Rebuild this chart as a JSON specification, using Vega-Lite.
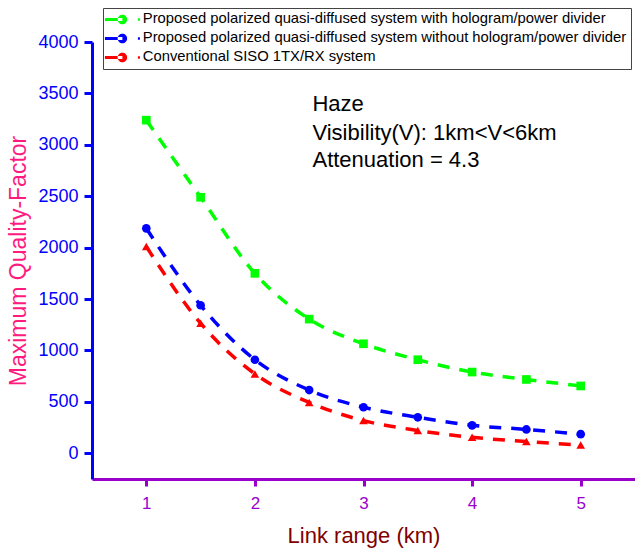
{
  "$schema": "https://vega.github.io/schema/vega-lite/v6.json",
  "width": 543,
  "height": 437,
  "autosize": {"type": "none"},
  "padding": {"left": 92, "top": 42, "right": 0, "bottom": 77},
  "background": "white",
  "config": {
    "font": "Liberation Sans",
    "view": {"stroke": null},
    "axis": {"labelFont": "Liberation Sans", "titleFont": "Liberation Sans", "titleFontWeight": "normal", "grid": false},
    "legend": {
      "direction": "vertical", "padding": 4,
      "strokeColor": "#444444", "fillColor": "white",
      "labelFont": "Liberation Sans", "labelFontSize": 14.8, "labelColor": "black", "labelLimit": 0,
      "symbolSize": 100, "symbolOffset": 8, "labelOffset": 13, "rowPadding": 3
    }
  },
  "datasets": {
    "curves": [
      {"system": "Proposed polarized quasi-diffused system with hologram/power divider", "range_km": 1.0, "q_factor": 3240},
      {"system": "Proposed polarized quasi-diffused system with hologram/power divider", "range_km": 1.5, "q_factor": 2490},
      {"system": "Proposed polarized quasi-diffused system with hologram/power divider", "range_km": 2.0, "q_factor": 1750},
      {"system": "Proposed polarized quasi-diffused system with hologram/power divider", "range_km": 2.5, "q_factor": 1305},
      {"system": "Proposed polarized quasi-diffused system with hologram/power divider", "range_km": 3.0, "q_factor": 1065},
      {"system": "Proposed polarized quasi-diffused system with hologram/power divider", "range_km": 3.5, "q_factor": 910},
      {"system": "Proposed polarized quasi-diffused system with hologram/power divider", "range_km": 4.0, "q_factor": 790},
      {"system": "Proposed polarized quasi-diffused system with hologram/power divider", "range_km": 4.5, "q_factor": 718},
      {"system": "Proposed polarized quasi-diffused system with hologram/power divider", "range_km": 5.0, "q_factor": 655},
      {"system": "Proposed polarized quasi-diffused system without hologram/power divider", "range_km": 1.0, "q_factor": 2188},
      {"system": "Proposed polarized quasi-diffused system without hologram/power divider", "range_km": 1.5, "q_factor": 1440},
      {"system": "Proposed polarized quasi-diffused system without hologram/power divider", "range_km": 2.0, "q_factor": 910},
      {"system": "Proposed polarized quasi-diffused system without hologram/power divider", "range_km": 2.5, "q_factor": 615},
      {"system": "Proposed polarized quasi-diffused system without hologram/power divider", "range_km": 3.0, "q_factor": 448},
      {"system": "Proposed polarized quasi-diffused system without hologram/power divider", "range_km": 3.5, "q_factor": 350},
      {"system": "Proposed polarized quasi-diffused system without hologram/power divider", "range_km": 4.0, "q_factor": 272},
      {"system": "Proposed polarized quasi-diffused system without hologram/power divider", "range_km": 4.5, "q_factor": 232},
      {"system": "Proposed polarized quasi-diffused system without hologram/power divider", "range_km": 5.0, "q_factor": 186},
      {"system": "Conventional SISO 1TX/RX system", "range_km": 1.0, "q_factor": 2010},
      {"system": "Conventional SISO 1TX/RX system", "range_km": 1.5, "q_factor": 1265},
      {"system": "Conventional SISO 1TX/RX system", "range_km": 2.0, "q_factor": 772},
      {"system": "Conventional SISO 1TX/RX system", "range_km": 2.5, "q_factor": 495},
      {"system": "Conventional SISO 1TX/RX system", "range_km": 3.0, "q_factor": 318},
      {"system": "Conventional SISO 1TX/RX system", "range_km": 3.5, "q_factor": 222},
      {"system": "Conventional SISO 1TX/RX system", "range_km": 4.0, "q_factor": 155},
      {"system": "Conventional SISO 1TX/RX system", "range_km": 4.5, "q_factor": 115},
      {"system": "Conventional SISO 1TX/RX system", "range_km": 5.0, "q_factor": 80}
    ],
    "notes": [
      {"note": "Haze", "range_km": 2.53, "q_factor": 3330},
      {"note": "Visibility(V): 1km<V<6km", "range_km": 2.53, "q_factor": 3045},
      {"note": "Attenuation = 4.3", "range_km": 2.53, "q_factor": 2780}
    ]
  },
  "layer": [
    {
      "data": {"name": "curves"},
      "mark": {"type": "line", "interpolate": "monotone", "strokeWidth": 3.5, "strokeDash": [12, 10]},
      "encoding": {
        "x": {
          "field": "range_km", "type": "quantitative",
          "scale": {"domain": [0.5, 5.5], "nice": false, "zero": false},
          "axis": {
            "title": "Link range (km)", "values": [1, 2, 3, 4, 5], "format": "d",
            "domainColor": "#9900CC", "domainWidth": 3,
            "tickColor": "#9900CC", "tickWidth": 3, "tickSize": 7,
            "labelColor": "#9900CC", "labelFontSize": 17, "labelPadding": 9,
            "titleColor": "#800000", "titleFontSize": 22, "titlePadding": 14
          }
        },
        "y": {
          "field": "q_factor", "type": "quantitative",
          "scale": {"domain": [-250, 4000], "nice": false, "zero": false},
          "axis": {
            "title": "Maximum Quality-Factor", "values": [0, 500, 1000, 1500, 2000, 2500, 3000, 3500, 4000], "format": "d",
            "domainColor": "#0000FF", "domainWidth": 3,
            "tickColor": "#0000FF", "tickWidth": 3, "tickSize": 8,
            "labelColor": "#0000FF", "labelFontSize": 18, "labelPadding": 6,
            "titleColor": "#FF1A80", "titleFontSize": 23, "titlePadding": 7
          }
        },
        "stroke": {
          "field": "system", "type": "nominal",
          "scale": {
            "domain": [
              "Proposed polarized quasi-diffused system with hologram/power divider",
              "Proposed polarized quasi-diffused system without hologram/power divider",
              "Conventional SISO 1TX/RX system"
            ],
            "range": ["#00FF00", "#0000FF", "#FF0000"]
          },
          "legend": {"orient": "right", "disable": true}
        }
      }
    },
    {
      "data": {"name": "curves"},
      "mark": {"type": "point", "filled": true, "size": 75, "opacity": 1},
      "encoding": {
        "x": {"field": "range_km", "type": "quantitative"},
        "y": {"field": "q_factor", "type": "quantitative"},
        "color": {
          "field": "system", "type": "nominal",
          "scale": {
            "domain": [
              "Proposed polarized quasi-diffused system with hologram/power divider",
              "Proposed polarized quasi-diffused system without hologram/power divider",
              "Conventional SISO 1TX/RX system"
            ],
            "range": ["#00FF00", "#0000FF", "#FF0000"]
          },
          "legend": {
            "title": null, "orient": "none", "legendX": 11, "legendY": -34,
            "symbolType": "M-3.5,-0.3H0V0.3H-3.5Z M-0.95,0A0.95,0.95 0 1,0 0.95,0A0.95,0.95 0 1,0 -0.95,0Z M3.1,-0.25H3.5V0.25H3.1Z",
            "encode": {
              "symbols": {
                "opacity": {"value": 1}
              }
            }
          }
        },
        "shape": {
          "field": "system", "type": "nominal",
          "scale": {
            "domain": [
              "Proposed polarized quasi-diffused system with hologram/power divider",
              "Proposed polarized quasi-diffused system without hologram/power divider",
              "Conventional SISO 1TX/RX system"
            ],
            "range": ["square", "circle", "triangle-up"]
          },
          "legend": {"orient": "right", "disable": true}
        }
      }
    },
    {
      "data": {"name": "notes"},
      "mark": {"type": "text", "align": "left", "baseline": "alphabetic", "fontSize": 22, "font": "Liberation Sans", "color": "black"},
      "encoding": {
        "x": {"field": "range_km", "type": "quantitative"},
        "y": {"field": "q_factor", "type": "quantitative"},
        "text": {"field": "note"}
      }
    }
  ]
}
